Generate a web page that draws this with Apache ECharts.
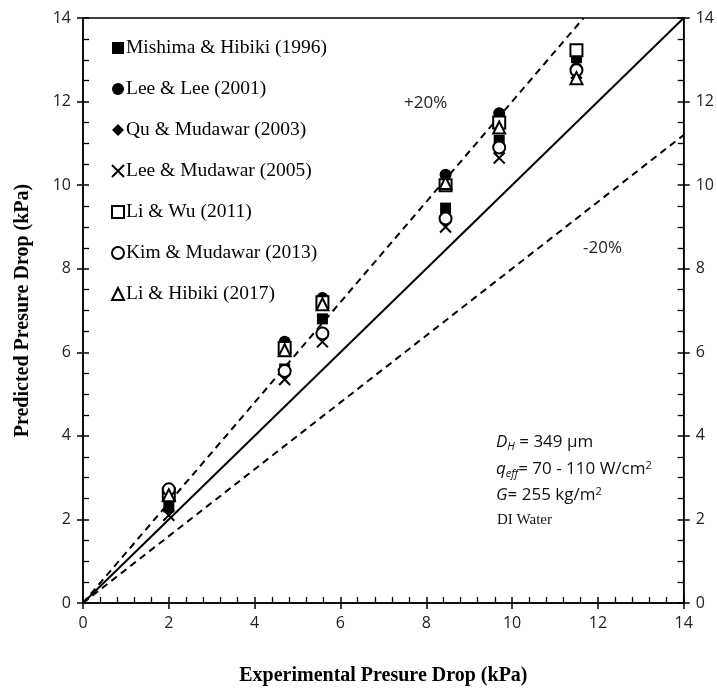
<!DOCTYPE html>
<html><head><meta charset="utf-8">
<script src="https://cdn.jsdelivr.net/npm/echarts@6/dist/echarts.min.js"></script>
<style>html,body{margin:0;padding:0;background:#fff}#c{width:717px;height:698px}</style>
</head><body><div id="c"></div>
<script>
const xExp = [2.0, 4.7, 5.58, 8.45, 9.7, 11.5];
const mishima = [2.3, 5.6, 6.8, 9.45, 11.07, 13.05];
const leeLee = [2.72, 6.25, 7.3, 10.25, 11.72, 12.8];
const quMudawar = [2.25, 5.6, 6.5, 9.2, 10.97, 12.8];
const leeMudawar = [2.1, 5.35, 6.25, 9.0, 10.65, 12.68];
const liWu = [2.6, 6.1, 7.2, 10.0, 11.5, 13.23];
const kimMudawar = [2.72, 5.55, 6.45, 9.2, 10.9, 12.75];
const liHibiki = [2.58, 6.05, 7.15, 10.05, 11.38, 12.56];
const names = ['Mishima & Hibiki (1996)','Lee & Lee (2001)','Qu & Mudawar (2003)','Lee & Mudawar (2005)','Li & Wu (2011)','Kim & Mudawar (2013)','Li & Hibiki (2017)'];
const perfectLine = [[0,0],[14,14]];
const plus20Line = [[0,0],[14/1.2,14]];
const minus20Line = [[0,0],[14,11.2]];

const seriesVals = [mishima, leeLee, quMudawar, leeMudawar, liWu, kimMudawar, liHibiki];
const sym = [
  {symbol:'rect', size:11},
  {symbol:'circle', size:12},
  {symbol:'diamond', size:10},
  {symbol:'path://M0,0L10,10M10,0L0,10', size:11, stroke:true},
  {symbol:'rect', size:12, open:true},
  {symbol:'circle', size:12, open:true},
  {symbol:'triangle', size:12, open:true}
];
const chart = echarts.init(document.getElementById('c'));
const scatters = seriesVals.map((vals,i)=>({
  type:'scatter', name:names[i], xAxisIndex:0, yAxisIndex:0,
  data: vals.map((v,j)=>[xExp[j], v]),
  symbol: sym[i].symbol, symbolSize: sym[i].size,
  itemStyle: sym[i].stroke ? {color:'rgba(0,0,0,0)', borderColor:'#000', borderWidth:2, opacity:1}
           : sym[i].open ? {color:'#fff', borderColor:'#000', borderWidth:2, opacity:1}
           : {color:'#000', opacity:1},
  z: 5
}));
const lineStyleBase = {color:'#000', width:2};
const lines = [
  {type:'line', data:perfectLine, symbol:'none', lineStyle:{...lineStyleBase}, silent:true, z:3},
  {type:'line', data:plus20Line, symbol:'none', lineStyle:{...lineStyleBase, type:[7,5]}, silent:true, z:3},
  {type:'line', data:minus20Line, symbol:'none', lineStyle:{...lineStyleBase, type:[7,5]}, silent:true, z:3}
];
const lblFont = {fontFamily:'Open Sans', fontSize:16, color:'#222'};
const common = {min:0, max:14, interval:2, splitLine:{show:false}};
const grid = {left:83, right:33, top:18, bottom:95, show:true, borderColor:'#000', borderWidth:1.5};
chart.setOption({
  animation:false,
  grid: grid,
  legend: {
    data: names, orient:'vertical', left:106, top:33, itemGap:21, itemWidth:12, itemHeight:12,
    textStyle:{fontFamily:'Liberation Serif', fontSize:19.5, color:'#000', padding:[0,0,0,-3]},
    selectedMode:false
  },
  xAxis: [
    {...common, type:'value', position:'bottom', axisLine:{lineStyle:{color:'#000', width:1.5}},
     axisTick:{inside:true, length:6, lineStyle:{color:'#000', width:1.5}},
     minorTick:{show:true, splitNumber:5, length:6, lineStyle:{color:'#000', width:1.3}},
     axisLabel:{...lblFont, margin:12},
     name:'Experimental Presure Drop (kPa)', nameLocation:'middle', nameGap:63,
     nameTextStyle:{fontFamily:'Liberation Serif', fontWeight:'bold', fontSize:20, color:'#000'}},
    {...common, type:'value', position:'bottom', axisLine:{show:false},
     axisTick:{inside:false, length:6, lineStyle:{color:'#000', width:1.5}}, axisLabel:{show:false}}
  ],
  yAxis: [
    {...common, type:'value', position:'left', axisLine:{lineStyle:{color:'#000', width:1.5}},
     axisTick:{inside:true, length:6, lineStyle:{color:'#000', width:1.5}},
     minorTick:{show:true, splitNumber:4, length:6, lineStyle:{color:'#000', width:1.3}},
     axisLabel:{...lblFont, margin:12},
     name:'Predicted Presure Drop (kPa)', nameLocation:'middle', nameGap:50,
     nameTextStyle:{fontFamily:'Liberation Serif', fontWeight:'bold', fontSize:20, color:'#000'}},
    {...common, type:'value', position:'left', axisLine:{show:false},
     axisTick:{inside:false, length:6, lineStyle:{color:'#000', width:1.5}}, axisLabel:{show:false}},
    {...common, type:'value', position:'right', axisLine:{show:true, lineStyle:{color:'#000', width:1.5}},
     axisTick:{inside:true, length:6, lineStyle:{color:'#000', width:1.5}},
     minorTick:{show:true, splitNumber:4, length:6, lineStyle:{color:'#000', width:1.3}},
     axisLabel:{...lblFont, margin:12}},
    {...common, type:'value', position:'right', axisLine:{show:false},
     axisTick:{inside:false, length:6, lineStyle:{color:'#000', width:1.5}}, axisLabel:{show:false}}
  ],
  series: [...lines, ...scatters],
  graphic: [
    {type:'text', left:404, top:95, style:{text:'+20%', fontFamily:'Open Sans', fontSize:17, fill:'#222'}},
    {type:'text', left:583, top:240, style:{text:'-20%', fontFamily:'Open Sans', fontSize:17, fill:'#222'}},
    {type:'text', left:496, top:434, style:{
      rich:{i:{fontFamily:'Open Sans', fontStyle:'italic', fontSize:17, fill:'#111'},
            s:{fontFamily:'Open Sans', fontStyle:'italic', fontSize:11, fill:'#111', padding:[8,0,0,0]},
            n:{fontFamily:'Open Sans', fontSize:17, fill:'#111'}},
      text:'{i|D}{s|H}{n| = 349 µm}'}},
    {type:'text', left:496, top:460, style:{
      rich:{i:{fontFamily:'Open Sans', fontStyle:'italic', fontSize:17, fill:'#111'},
            s:{fontFamily:'Open Sans', fontStyle:'italic', fontSize:11, fill:'#111', padding:[8,0,0,0]},
            p:{fontFamily:'Open Sans', fontSize:11, fill:'#111', padding:[0,0,8,0]},
            n:{fontFamily:'Open Sans', fontSize:17, fill:'#111'}},
      text:'{i|q}{s|eff}{n|= 70 - 110 W/cm}{p|2}'}},
    {type:'text', left:496, top:486, style:{
      rich:{i:{fontFamily:'Open Sans', fontStyle:'italic', fontSize:17, fill:'#111'},
            p:{fontFamily:'Open Sans', fontSize:11, fill:'#111', padding:[0,0,8,0]},
            n:{fontFamily:'Open Sans', fontSize:17, fill:'#111'}},
      text:'{i|G}{n|= 255 kg/m}{p|2}'}},
    {type:'text', left:497, top:513, style:{text:'DI Water', fontFamily:'Liberation Serif', fontSize:15, fill:'#111'}}
  ]
});
</script></body></html>
